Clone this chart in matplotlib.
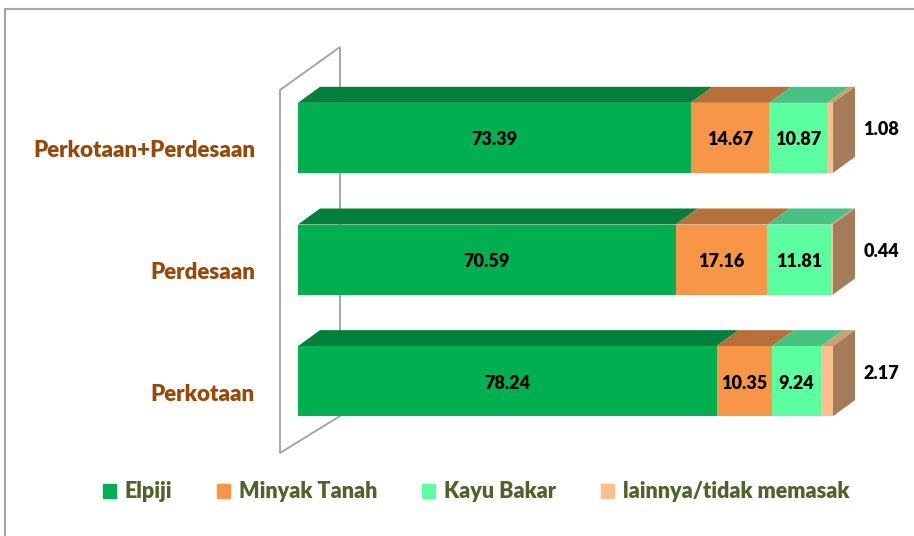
import matplotlib
matplotlib.use("Agg")
import matplotlib.pyplot as plt
from matplotlib.patches import Polygon, Rectangle
import numpy as np

# ── Data ──────────────────────────────────────────────────────────────────────
categories = ["Perkotaan", "Perdesaan", "Perkotaan+Perdesaan"]
series     = ["Elpiji", "Minyak Tanah", "Kayu Bakar", "lainnya/tidak memasak"]
elpiji     = [78.24, 70.59, 73.39]
minyak     = [10.35, 17.16, 14.67]
kayu       = [9.24, 11.81, 10.87]
lainnya    = [2.17, 0.44, 1.08]

# ── Style ─────────────────────────────────────────────────────────────────────
front_col = ["#00B050", "#F79646", "#5CFFA0", "#FAC090"]
top_col   = ["#00803B", "#B8703A", "#46C283", "#C9A070"]
side_col  = "#A57C5A"
cat_col   = "#984807"
leg_col   = "#4F6228"
FONT      = "Lato"
WEIGHT    = "heavy"

W, H = 914, 536
fig = plt.figure(figsize=(W / 100, H / 100), dpi=100)
fig.patches.append(Rectangle((5 / W, -0.1), 1.2, 1 - 9 / H + 0.1,
                             transform=fig.transFigure, fill=False,
                             edgecolor="#A6A6A6", lw=1.5))

# axes: x 0..100 -> px 298..833, y -0.5..2.5 -> px 442..77
x0, x1 = 298, 833
yb, yt = 442, 77
ax = fig.add_axes([x0 / W, 1 - yb / H, (x1 - x0) / W, (yb - yt) / H])
ax.set_xlim(0, 100)
ax.set_ylim(-0.5, 2.5)
ax.axis("off")

px_x = 100 / (x1 - x0)          # data units per pixel (x)
px_y = 3 / (yb - yt)            # data units per pixel (y)
dx, dy = 22 * px_x, 16 * px_y   # depth offset of bars
bh = 70 * px_y                  # bar thickness

# back wall (outline)
wx0, wx1 = -18 * px_x, 42 * px_x
wall = Polygon([(wx0, -0.5 - 11 * px_y), (wx0, 2.5 - 13 * px_y),
                (wx1, 2.5 + 30 * px_y), (wx1, -0.5 + 26 * px_y)],
               closed=True, fill=False, edgecolor="#A6A6A6", lw=1.4,
               clip_on=False, zorder=1)
ax.add_patch(wall)

vals = np.array([elpiji, minyak, kayu, lainnya])
ypos = np.arange(len(categories))
left = np.zeros(len(categories))
for i, v in enumerate(vals):
    ax.barh(ypos, v, left=left, height=bh, color=front_col[i],
            edgecolor="none", zorder=3)
    for y, l, w in zip(ypos, left, v):
        top = y + bh / 2
        ax.add_patch(Polygon([(l, top), (l + dx, top + dy),
                              (l + w + dx, top + dy), (l + w, top)],
                             closed=True, color=top_col[i], lw=0,
                             clip_on=False, zorder=2))
    left = left + v

# right side face
for y, l in zip(ypos, left):
    ax.add_patch(Polygon([(l, y - bh / 2), (l, y + bh / 2),
                          (l + dx, y + bh / 2 + dy), (l + dx, y - bh / 2 + dy)],
                         closed=True, color=side_col, lw=0,
                         clip_on=False, zorder=2))

# value labels
lab_kw = dict(ha="center", va="center", fontsize=13, fontweight=WEIGHT,
              color="black", family=FONT, zorder=5)
left = np.zeros(len(categories))
for i, v in enumerate(vals[:3]):
    for y, l, w in zip(ypos, left, v):
        ax.text(l + w / 2, y - 2 * px_y, f"{w:.2f}", **lab_kw)
    left = left + v
for y, w in zip(ypos, lainnya):
    ax.text(109, y + 8 * px_y, f"{w:.2f}", clip_on=False, **lab_kw)

# category labels
for y, c in zip(ypos, categories):
    ax.text(-43 * px_x, y - 13 * px_y, c, ha="right", va="center",
            fontsize=16, fontweight=WEIGHT, color=cat_col, family=FONT)

# legend
handles = [Rectangle((0, 0), 1, 1, color=c) for c in front_col]
leg = fig.legend(handles, series, loc="center", ncol=4, frameon=False,
                 bbox_to_anchor=(476 / W, 1 - 492 / H),
                 handlelength=0.6, handleheight=0.6, handletextpad=0.4,
                 columnspacing=2.1,
                 prop={"family": FONT, "weight": WEIGHT, "size": 15.5})
for t in leg.get_texts():
    t.set_color(leg_col)

fig.savefig("out.png", dpi=100)
